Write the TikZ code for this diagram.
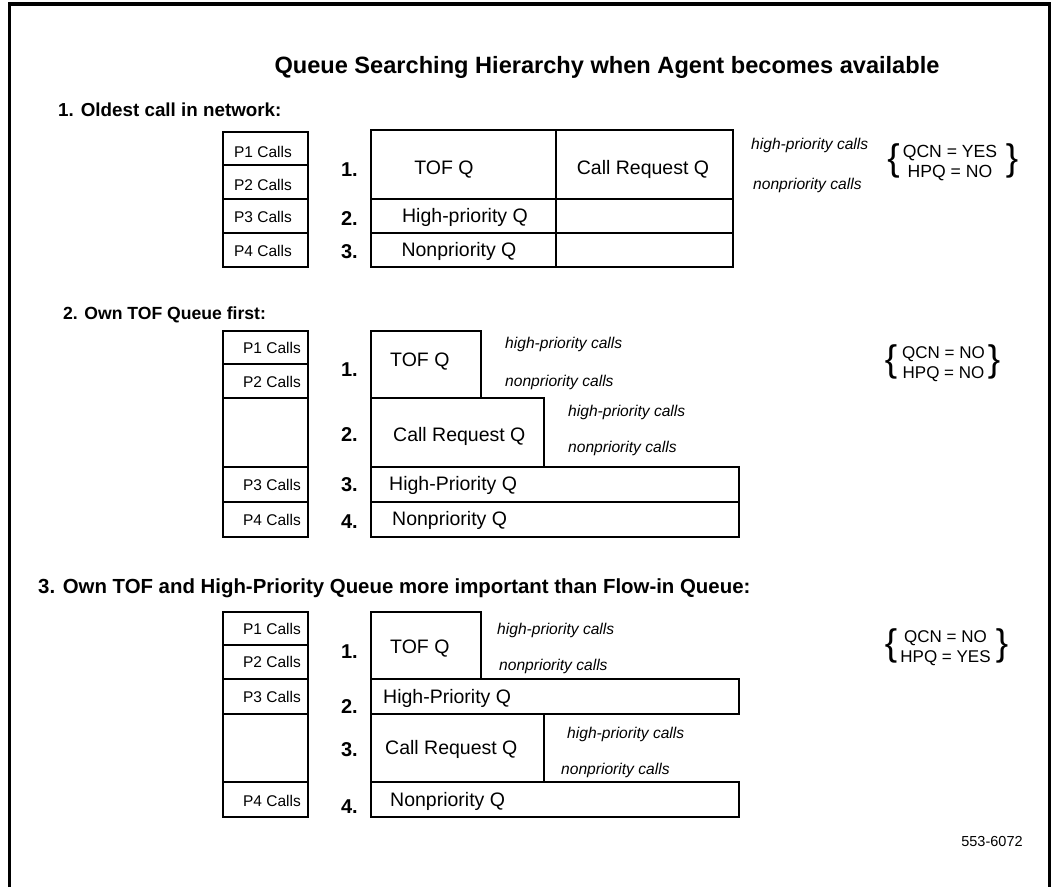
\documentclass[tikz,border=0pt]{standalone}
\usepackage{fontspec}
\setmainfont{Liberation Sans}
\tikzset{
  txt/.style={inner sep=0pt, yshift=-3.5pt},
  qbx/.style={draw, line width=1.8pt, inner sep=0pt, outer sep=0pt, anchor=north west},
  pc/.style={txt, font=\fontsize{15.5}{18}\selectfont, anchor=mid},
  pcr/.style={txt, font=\fontsize{15.5}{18}\selectfont, anchor=mid east},
  ql/.style={txt, font=\fontsize{19.5}{22}\selectfont, anchor=mid},
  qlw/.style={txt, font=\fontsize{19.5}{22}\selectfont, anchor=mid west},
  num/.style={txt, font=\bfseries\fontsize{20}{24}\selectfont, anchor=mid east},
  itl/.style={txt, font=\itshape\fontsize{15.6}{18}\selectfont, anchor=mid west},
  hd/.style={txt, font=\bfseries\fontsize{#1}{24}\selectfont, anchor=mid west},
  brc/.style={font=\fontsize{#1}{20}\selectfont, inner sep=0pt, anchor=center},
  brg/.style={font=\fontsize{37}{37}\selectfont, inner sep=0pt, anchor=center},
  frame/.style={line width=3.5pt},
}
\newcommand\qbox[5]{\node[qbx, minimum width={#4pt-#2pt}, minimum height={#5pt-#3pt}] (#1) at (#2,#3) {};}
\newcommand\brtext[2]{\begin{tabular}{@{}c@{}}#1\\#2\end{tabular}}
\begin{document}
\begin{tikzpicture}[x=1pt,y=-1pt]
\useasboundingbox (0,0) rectangle (1054,887);
% frame
\coordinate (fbl) at (9.5,887);
\coordinate (ftl) at (9.5,4);
\coordinate (ftr) at (1049.5,4);
\coordinate (fbr) at (1049.5,887);
\draw[frame] (fbl) -- (ftl) -- (ftr) -- (fbr);

\node[txt, font=\bfseries\fontsize{23.6}{28}\selectfont, anchor=mid] (title) at (607,67) {Queue Searching Hierarchy when Agent becomes available};

% ---------------- Section 1
\node[hd=18.8] (h1) at (58,110) {1. Oldest call in network:};
\qbox{a1}{223}{132}{308}{165}
\qbox{a2}{223}{165}{308}{199}
\qbox{a3}{223}{199}{308}{233}
\qbox{a4}{223}{233}{308}{267}
\node[pc] (a1t) at (263,151) {P1 Calls};
\node[pc] (a2t) at (263,184) {P2 Calls};
\node[pc] (a3t) at (263,216) {P3 Calls};
\node[pc] (a4t) at (263,250) {P4 Calls};
\node[num] (an1) at (358,170) {1.};
\node[num] (an2) at (358,219) {2.};
\node[num] (an3) at (358,252) {3.};
\qbox{b1}{371}{130}{556}{199}
\qbox{b2}{556}{130}{733}{199}
\qbox{b3}{371}{199}{556}{233}
\qbox{b4}{556}{199}{733}{233}
\qbox{b5}{371}{233}{556}{267}
\qbox{b6}{556}{233}{733}{267}
\node[ql] (b1t) at (444,168) {TOF Q};
\node[ql] (b2t) at (643,168) {Call Request Q};
\node[ql] (b3t) at (465,216) {High-priority Q};
\node[ql] (b5t) at (459,250) {Nonpriority Q};
\node[itl] (c1) at (751,143) {high-priority calls};
\node[itl] (c2) at (753,183) {nonpriority calls};
\node[brg] (d1l) at (893.5,160.5) {\{};
\node[brc=17.6] (d1) at (950,163) {\brtext{QCN = YES}{HPQ = NO}};
\node[brg] (d1r) at (1012,160.5) {\}};

% ---------------- Section 2
\node[hd=17.6] (h2) at (63,313) {2. Own TOF Queue first:};
\qbox{e1}{223}{331}{308}{364}
\qbox{e2}{223}{364}{308}{398}
\qbox{e3}{223}{398}{308}{467}
\qbox{e4}{223}{467}{308}{502}
\qbox{e5}{223}{502}{308}{537}
\node[pcr] (e1t) at (301,347) {P1 Calls};
\node[pcr] (e2t) at (301,381) {P2 Calls};
\node[pcr] (e4t) at (301,484) {P3 Calls};
\node[pcr] (e5t) at (301,519) {P4 Calls};
\node[num] (en1) at (358,370) {1.};
\node[num] (en2) at (358,435) {2.};
\node[num] (en3) at (358,485) {3.};
\node[num] (en4) at (358,522) {4.};
\qbox{f1}{371}{331}{481}{398}
\qbox{f2}{371}{398}{544}{467}
\qbox{f3}{371}{467}{739}{502}
\qbox{f4}{371}{502}{739}{537}
\node[qlw] (f1t) at (390,360) {TOF Q};
\node[qlw] (f2t) at (393,435) {Call Request Q};
\node[qlw] (f3t) at (389,484) {High-Priority Q};
\node[qlw] (f4t) at (392,519) {Nonpriority Q};
\node[itl] (g1) at (505,342) {high-priority calls};
\node[itl] (g2) at (505,380) {nonpriority calls};
\node[itl] (g3) at (568,410) {high-priority calls};
\node[itl] (g4) at (568,446) {nonpriority calls};
\node[brg] (k1l) at (891,362) {\{};
\node[brc=17] (k1) at (943.5,364.5) {\brtext{QCN = NO}{HPQ = NO}};
\node[brg] (k1r) at (994,362) {\}};

% ---------------- Section 3
\node[hd=20.4] (h3) at (38,587) {3. Own TOF and High-Priority Queue more important than Flow-in Queue:};
\qbox{m1}{223}{612}{308}{645}
\qbox{m2}{223}{645}{308}{679}
\qbox{m3}{223}{679}{308}{714}
\qbox{m4}{223}{714}{308}{782}
\qbox{m5}{223}{782}{308}{817}
\node[pcr] (m1t) at (301,628) {P1 Calls};
\node[pcr] (m2t) at (301,661) {P2 Calls};
\node[pcr] (m3t) at (301,696) {P3 Calls};
\node[pcr] (m5t) at (301,800) {P4 Calls};
\node[num] (mn1) at (358,652) {1.};
\node[num] (mn2) at (358,707) {2.};
\node[num] (mn3) at (358,750) {3.};
\node[num] (mn4) at (358,807) {4.};
\qbox{n1}{371}{612}{481}{679}
\qbox{n2}{371}{679}{739}{714}
\qbox{n3}{371}{714}{544}{782}
\qbox{n4}{371}{782}{739}{817}
\node[qlw] (n1t) at (390,647) {TOF Q};
\node[qlw] (n2t) at (383,697) {High-Priority Q};
\node[qlw] (n3t) at (385,748) {Call Request Q};
\node[qlw] (n4t) at (390,800) {Nonpriority Q};
\node[itl] (p1) at (497,628) {high-priority calls};
\node[itl] (p2) at (499,664) {nonpriority calls};
\node[itl] (p3) at (567,732) {high-priority calls};
\node[itl] (p4) at (561,768) {nonpriority calls};
\node[brg] (q1l) at (891,646) {\{};
\node[brc=17] (q1) at (945.5,648.5) {\brtext{QCN = NO}{HPQ = YES}};
\node[brg] (q1r) at (1002,646) {\}};

\node[txt, font=\fontsize{14.5}{17}\selectfont, anchor=mid] (ref) at (992,840) {553-6072};
\end{tikzpicture}
\end{document}
